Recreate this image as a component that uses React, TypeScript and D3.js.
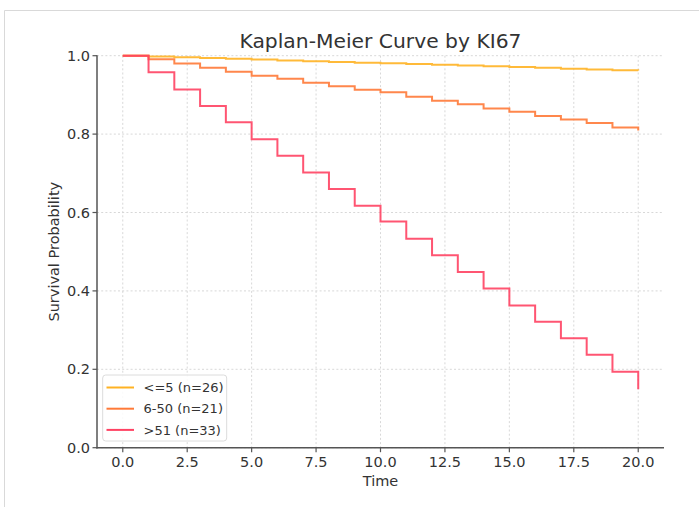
import React from "react";
import * as d3 from "d3";

const times = [0, 1, 2, 3, 4, 5, 6, 7, 8, 9, 10, 11, 12, 13, 14, 15, 16, 17, 18, 19, 20];
const lowKI67 = [1.0, 0.998, 0.996, 0.994, 0.992, 0.990, 0.988, 0.986, 0.984, 0.982, 0.981, 0.979, 0.977, 0.975, 0.973, 0.971, 0.969, 0.967, 0.965, 0.963, 0.962];
const midKI67 = [1.0, 0.991, 0.980, 0.969, 0.959, 0.949, 0.941, 0.931, 0.922, 0.913, 0.907, 0.895, 0.885, 0.876, 0.865, 0.857, 0.846, 0.837, 0.828, 0.817, 0.809];
const highKI67 = [1.0, 0.958, 0.914, 0.872, 0.830, 0.787, 0.745, 0.702, 0.660, 0.617, 0.577, 0.533, 0.491, 0.448, 0.406, 0.363, 0.321, 0.279, 0.237, 0.194, 0.149];
const seriesNames = ["<=5 (n=26)", "6-50 (n=21)", ">51 (n=33)"];
const xTicks = [0, 2.5, 5, 7.5, 10, 12.5, 15, 17.5, 20];
const yTicks = [0, 0.2, 0.4, 0.6, 0.8, 1.0];

const W = 699, H = 507;
const left = 97, right = 664, top = 55.7, bottom = 447.7;
const colors = ["#FFB223", "#FF7A38", "#FF4263"];
const font = "DejaVu Sans, sans-serif";

export default function App() {
  const x = d3.scaleLinear().domain([-1, 21]).range([left, right]);
  const y = d3.scaleLinear().domain([0, 1]).range([bottom, top]);
  const all = [lowKI67, midKI67, highKI67];

  const kmPath = (vals: number[]) => {
    const pts: [number, number][] = [];
    for (let i = 0; i < times.length; i++) {
      if (i === 0) pts.push([times[0], vals[0]]);
      else {
        pts.push([times[i], vals[i - 1]]);
        pts.push([times[i], vals[i]]);
      }
    }
    return d3.line<[number, number]>().x((d) => x(d[0])).y((d) => y(d[1]))(pts) || "";
  };

  const legX = 102.7, legY = 375, legW = 124, legH = 66;

  return (
    <svg width={W} height={H} style={{ position: "absolute", left: 0, top: 0, background: "#fff" }} fontFamily={font}>
      <rect x={0} y={0} width={W} height={H} fill="#fff" />
      <line x1={4.5} y1={10.5} x2={W} y2={10.5} stroke="#d9d9d9" strokeWidth={1} />
      <line x1={4.5} y1={10.5} x2={4.5} y2={H} stroke="#d9d9d9" strokeWidth={1} />

      {xTicks.map((t) => (
        <line key={"gx" + t} x1={x(t)} x2={x(t)} y1={top} y2={bottom} stroke="#d4d4d4" strokeWidth={0.9} strokeDasharray="2,2.2" />
      ))}
      {yTicks.map((t) => (
        <line key={"gy" + t} x1={left} x2={right} y1={y(t)} y2={y(t)} stroke="#d4d4d4" strokeWidth={0.9} strokeDasharray="2,2.2" />
      ))}

      {all.map((vals, i) => (
        <path key={"c" + i} d={kmPath(vals)} fill="none" stroke={colors[i]} strokeWidth={2} strokeOpacity={0.9} />
      ))}

      <line x1={left} x2={left} y1={top - 0.5} y2={bottom + 0.7} stroke="#555" strokeWidth={1.5} />
      <line x1={left - 0.7} x2={right} y1={bottom} y2={bottom} stroke="#555" strokeWidth={1.5} />

      {xTicks.map((t) => (
        <g key={"xt" + t}>
          <line x1={x(t)} x2={x(t)} y1={bottom} y2={bottom + 4.5} stroke="#555" strokeWidth={1.2} />
          <text x={x(t)} y={bottom + 19} textAnchor="middle" fontSize={14.5} fill="#333">
            {t.toFixed(1)}
          </text>
        </g>
      ))}
      {yTicks.map((t) => (
        <g key={"yt" + t}>
          <line x1={left - 4.5} x2={left} y1={y(t)} y2={y(t)} stroke="#555" strokeWidth={1.2} />
          <text x={left - 7} y={y(t) + 5} textAnchor="end" fontSize={14.5} fill="#333">
            {t.toFixed(1)}
          </text>
        </g>
      ))}

      <text x={(left + right) / 2} y={486} textAnchor="middle" fontSize={14.5} fill="#333">Time</text>
      <text transform={`translate(59,${(top + bottom) / 2}) rotate(-90)`} textAnchor="middle" fontSize={14.5} fill="#333">
        Survival Probability
      </text>
      <text x={(left + right) / 2} y={48} textAnchor="middle" fontSize={20.3} fill="#333">
        Kaplan-Meier Curve by KI67
      </text>

      <rect x={legX} y={legY} width={legW} height={legH} rx={3} fill="#fff" fillOpacity={0.85} stroke="#dcdcdc" strokeWidth={1} />
      {seriesNames.map((n, i) => (
        <g key={"lg" + i}>
          <line x1={106.5} x2={134} y1={387.5 + i * 21.2} y2={387.5 + i * 21.2} stroke={colors[i]} strokeWidth={2} />
          <text x={143.5} y={392.2 + i * 21.2} fontSize={13} fill="#333">{n}</text>
        </g>
      ))}
    </svg>
  );
}
